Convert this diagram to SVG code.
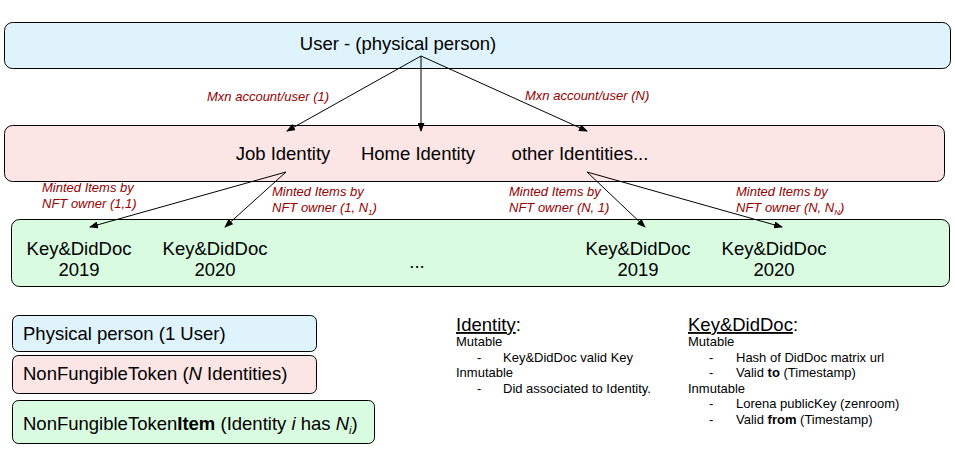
<svg xmlns="http://www.w3.org/2000/svg" width="955" height="454" viewBox="0 0 955 454">
<style>
text{font-family:"Liberation Sans",Arial,sans-serif;fill:#000}
.big{font-size:18.5px}
.mid{font-size:13px}
.lbl{font-size:13px;font-style:italic;fill:#980000}
.box{stroke:#000;stroke-width:1}
.blue{fill:#def3fc}
.pink{fill:#fce5e5}
.green{fill:#d9fbe0}
.conn{stroke:#000;stroke-width:1;fill:none;marker-end:url(#ah)}
</style>
<defs>
<marker id="ah" markerWidth="9" markerHeight="7" refX="8" refY="3.5" orient="auto" markerUnits="userSpaceOnUse">
<path d="M0,0 L9,3.5 L0,7 Z" fill="#000"/>
</marker>
</defs>
<rect width="955" height="454" fill="#fff"/>
<g id="user">
<rect class="box blue" x="4.5" y="22.5" width="946" height="46" rx="8"/>
<text class="big" x="398" y="50" text-anchor="middle">User - (physical person)</text>
</g>
<g id="identities">
<rect class="box pink" x="4.5" y="125.5" width="940" height="56" rx="8"/>
<text class="big" x="283" y="160" text-anchor="middle">Job Identity</text>
<text class="big" x="418" y="160" text-anchor="middle">Home Identity</text>
<text class="big" x="580" y="160" text-anchor="middle">other Identities...</text>
</g>
<g id="items">
<rect class="box green" x="11.5" y="219.5" width="938" height="67" rx="8"/>
<text class="big" x="79" y="255" text-anchor="middle">Key&amp;DidDoc</text>
<text class="big" x="79" y="276" text-anchor="middle">2019</text>
<text class="big" x="215" y="255" text-anchor="middle">Key&amp;DidDoc</text>
<text class="big" x="215" y="276" text-anchor="middle">2020</text>
<text class="big" x="417" y="268" text-anchor="middle">...</text>
<text class="big" x="638" y="255" text-anchor="middle">Key&amp;DidDoc</text>
<text class="big" x="638" y="276" text-anchor="middle">2019</text>
<text class="big" x="774" y="255" text-anchor="middle">Key&amp;DidDoc</text>
<text class="big" x="774" y="276" text-anchor="middle">2020</text>
</g>
<g id="connectors">
<line class="conn" x1="421" y1="56" x2="287" y2="131"/>
<line class="conn" x1="421" y1="56" x2="421" y2="131"/>
<line class="conn" x1="421" y1="56" x2="587" y2="131"/>
<line class="conn" x1="286" y1="172" x2="90" y2="227"/>
<line class="conn" x1="286" y1="172" x2="225" y2="227"/>
<line class="conn" x1="587" y1="172" x2="645" y2="227"/>
<line class="conn" x1="587" y1="172" x2="782" y2="227"/>
<text class="lbl" x="207" y="101">Mxn account/user (1)</text>
<text class="lbl" x="525" y="100">Mxn account/user (N)</text>
<text class="lbl" x="42" y="192">Minted Items by</text>
<text class="lbl" x="42" y="208">NFT owner (1,1)</text>
<text class="lbl" x="272" y="196">Minted Items by</text>
<text class="lbl" x="272" y="212">NFT owner (1, N<tspan font-size="8" dy="3">1</tspan><tspan dy="-3">)</tspan></text>
<text class="lbl" x="509" y="196">Minted Items by</text>
<text class="lbl" x="509" y="212">NFT owner (N, 1)</text>
<text class="lbl" x="736" y="196">Minted Items by</text>
<text class="lbl" x="736" y="212">NFT owner (N, N<tspan font-size="8" dy="3">N</tspan><tspan dy="-3">)</tspan></text>
</g>
<g id="legend-user">
<rect class="box blue" x="12.5" y="315.5" width="304" height="36" rx="6"/>
<text class="big" x="23" y="340">Physical person (1 User)</text>
</g>
<g id="legend-nft">
<rect class="box pink" x="12.5" y="355.5" width="304" height="38" rx="6"/>
<text class="big" x="23" y="380">NonFungibleToken (<tspan font-style="italic">N</tspan> Identities)</text>
</g>
<g id="legend-item">
<rect class="box green" x="12.5" y="400.5" width="362" height="43" rx="6"/>
<text class="big" x="23" y="430">NonFungibleToken<tspan font-weight="bold">Item</tspan> (Identity <tspan font-style="italic">i</tspan> has <tspan font-style="italic">N</tspan><tspan font-style="italic" font-size="11" dy="4">i</tspan><tspan dy="-4">)</tspan></text>
</g>
<g id="identity-notes">
<text class="big" x="456" y="331"><tspan text-decoration="underline">Identity</tspan>:</text>
<text class="mid" x="456" y="346">Mutable</text>
<text class="mid" x="477" y="362">-</text>
<text class="mid" x="503" y="362">Key&amp;DidDoc valid Key</text>
<text class="mid" x="456" y="377">Inmutable</text>
<text class="mid" x="477" y="393">-</text>
<text class="mid" x="503" y="393">Did associated to Identity.</text>
</g>
<g id="keydiddoc-notes">
<text class="big" x="688" y="331"><tspan text-decoration="underline">Key&amp;DidDoc</tspan>:</text>
<text class="mid" x="688" y="346">Mutable</text>
<text class="mid" x="709" y="362">-</text>
<text class="mid" x="736" y="362">Hash of DidDoc matrix url</text>
<text class="mid" x="709" y="377">-</text>
<text class="mid" x="736" y="377">Valid <tspan font-weight="bold">to</tspan> (Timestamp)</text>
<text class="mid" x="688" y="393">Inmutable</text>
<text class="mid" x="709" y="408">-</text>
<text class="mid" x="736" y="408">Lorena publicKey (zenroom)</text>
<text class="mid" x="709" y="424">-</text>
<text class="mid" x="736" y="424">Valid <tspan font-weight="bold">from</tspan> (Timestamp)</text>
</g>
</svg>
